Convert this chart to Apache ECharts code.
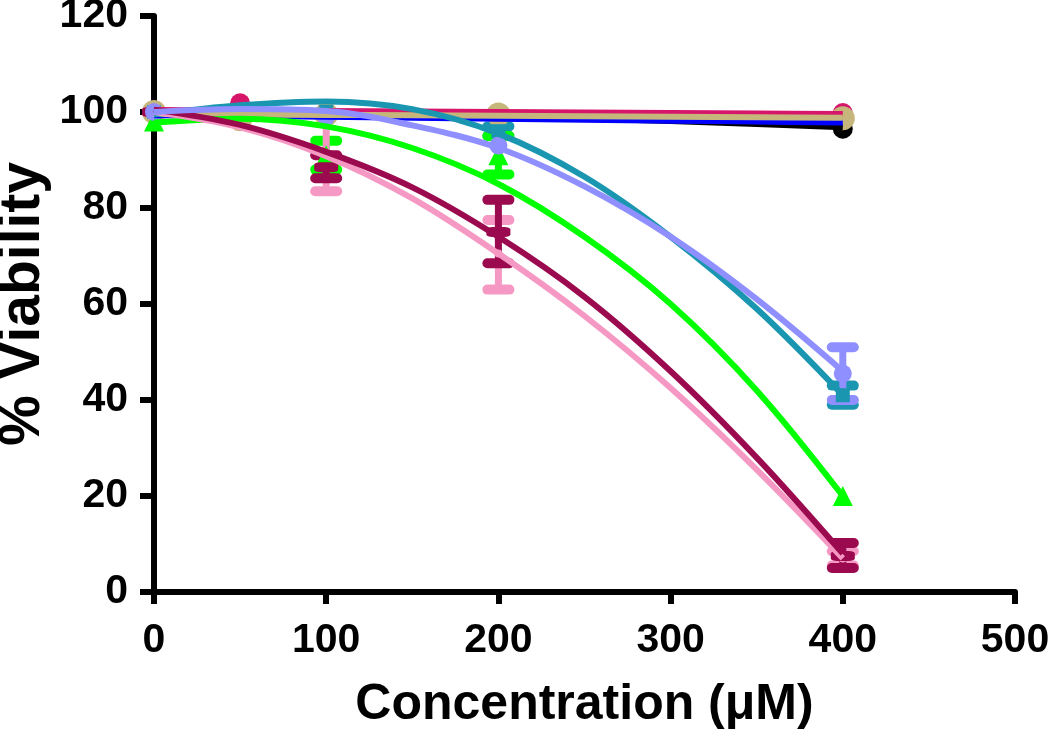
<!DOCTYPE html>
<html>
<head>
<meta charset="utf-8">
<script src="https://cdn.jsdelivr.net/npm/echarts@6/dist/echarts.min.js"></script>
<style>
html,body{margin:0;padding:0;background:#fff;}
#c{width:1050px;height:736px;}
</style>
</head>
<body>
<div id="c"></div>
<script>
// ---- data ----
const curveX = [0, 50, 100, 150, 200, 250, 300, 350, 400];
const xTicks = [0, 100, 200, 300, 400, 500];
const yTicks = [0, 20, 40, 60, 80, 100, 120];

const blackCurve    = [99.8, 99.7, 99.5, 99.3, 99.0, 98.6, 98.1, 97.5, 96.8];
const blueCurve     = [99.3, 99.2, 99.0, 98.8, 98.6, 98.4, 98.2, 98.0, 97.8];
const crimsonCurve  = [100.4, 100.3, 100.2, 100.1, 100.0, 99.9, 99.8, 99.7, 99.6];
const tanCurve      = [99.6, 99.5, 99.4, 99.3, 99.2, 99.1, 99.0, 98.9, 98.8];
const tealCurve     = [99.5, 101.4, 102.2, 100.6, 95.5, 86.5, 74.0, 59.0, 41.0];
const lavenderCurve = [100.0, 100.6, 100.2, 97.2, 92.5, 84.5, 74.0, 61.0, 46.0];
const greenCurve    = [97.8, 98.6, 97.0, 92.5, 85.0, 74.0, 60.0, 42.0, 20.0];
const maroonCurve   = [100.5, 97.3, 91.7, 84.3, 74.0, 61.5, 46.0, 28.0, 8.0];
const pinkCurve     = [100.0, 96.8, 90.8, 82.0, 70.5, 57.5, 42.5, 25.5, 7.0];

const blackPts    = [[0, 100], [100, 99.8], [200, 99.5], [400, 96.5]];
const bluePts     = [[0, 99.5], [100, 99.5], [200, 99.0], [400, 98.0]];
const crimsonPts  = [[0, 100], [50, 101.8], [100, 100], [200, 99.5], [400, 99.8]];
const tanPts      = [[0, 100], [50, 98.5], [100, 99.5], [200, 99.5], [400, 98.7]];
const tealPts     = [[0, 100], [100, 100], [200, 96.0], [400, 41.0]];
const lavenderPts = [[0, 100], [50, 100], [100, 99.0], [200, 93.0], [400, 45.5]];
const greenPts    = [[0, 98], [100, 91.0], [200, 91.0], [400, 20.0]];
const maroonPts   = [[0, 100], [100, 88.5], [200, 75.0], [400, 7.5]];
const pinkPts     = [[0, 100], [100, 91.5], [200, 70.5], [400, 7.0]];

// [x, low, high]
const tealErr     = [[200, 95.0, 97.0], [400, 39.0, 43.0]];
const lavenderErr = [[400, 40.0, 51.0]];
const greenErr    = [[100, 88.0, 94.0], [200, 87.0, 95.0]];
const maroonErr   = [[100, 86.2, 91.0], [200, 68.5, 81.7], [400, 5.0, 10.2]];
const pinkErr     = [[100, 83.5, 99.5], [200, 63.0, 77.5], [400, 5.5, 8.5]];

// ---- series definitions ----
const groups = [
  {name: 'black',    color: '#000000', curve: blackCurve,    pts: blackPts,    err: [], symbol: 'circle', size: 20},
  {name: 'blue',     color: '#0000ff', curve: blueCurve,     pts: bluePts,     err: [], symbol: 'circle', size: 16},
  {name: 'crimson',  color: '#d6166a', curve: crimsonCurve,  pts: crimsonPts,  err: [], symbol: 'circle', size: 20},
  {name: 'tan',      color: '#c6b67c', curve: tanCurve,      pts: tanPts,      err: [], symbol: 'circle', size: 24},
  {name: 'teal',     color: '#1a96b0', curve: tealCurve,     pts: tealPts,     err: tealErr, symbol: 'rect', size: 14},
  {name: 'green',    color: '#00ff00', curve: greenCurve,    pts: greenPts,    err: greenErr, symbol: 'triangle', size: 20},
  {name: 'pink',     color: '#f599c4', curve: pinkCurve,     pts: pinkPts,     err: pinkErr, symbol: 'circle', size: 8},
  {name: 'maroon',   color: '#9b0a4e', curve: maroonCurve,   pts: maroonPts,   err: maroonErr, symbol: 'roundRect', size: [24, 10]},
  {name: 'lavender', color: '#8f8fff', curve: lavenderCurve, pts: lavenderPts, err: lavenderErr, symbol: 'circle', size: 18}
];

const series = [];
groups.forEach(function (g) {
  series.push({
    type: 'line', name: g.name + '-fit', smooth: 0.35, showSymbol: false,
    data: curveX.map(function (x, i) { return [x, g.curve[i]]; }),
    lineStyle: {color: g.color, width: 6}, itemStyle: {color: g.color},
    silent: true, animation: false
  });
  if (g.err.length) {
    series.push({
      type: 'custom', name: g.name + '-err', data: g.err, animation: false,
      renderItem: function (params, api) {
        const x = api.value(0);
        const lo = api.coord([x, api.value(1)]);
        const hi = api.coord([x, api.value(2)]);
        const hw = 11;
        const st = {stroke: g.color, lineWidth: 10, lineCap: 'round'};
        return {
          type: 'group',
          children: [
            {type: 'line', shape: {x1: lo[0], y1: lo[1], x2: hi[0], y2: hi[1]}, style: {stroke: g.color, lineWidth: 7}},
            {type: 'line', shape: {x1: lo[0] - hw, y1: lo[1], x2: lo[0] + hw, y2: lo[1]}, style: st},
            {type: 'line', shape: {x1: hi[0] - hw, y1: hi[1], x2: hi[0] + hw, y2: hi[1]}, style: st}
          ]
        };
      }
    });
  }
  series.push({
    type: 'scatter', name: g.name, data: g.pts, symbol: g.symbol, symbolSize: g.size,
    itemStyle: {color: g.color, opacity: 1}, animation: false
  });
});

const labelFont = {fontFamily: '"Liberation Sans", Arial, sans-serif', fontWeight: 'bold', color: '#000'};

const option = {
  backgroundColor: '#fff',
  animation: false,
  grid: {left: 154, right: 35, top: 16, bottom: 144, containLabel: false, outerBoundsMode: 'none'},
  xAxis: {
    type: 'value', min: xTicks[0], max: xTicks[xTicks.length - 1], interval: 100,
    name: 'Concentration (μM)', nameLocation: 'middle', nameGap: 88, nameMoveOverlap: false,
    nameTextStyle: Object.assign({fontSize: 50}, labelFont),
    axisLine: {show: true, lineStyle: {color: '#000', width: 6}},
    axisTick: {show: true, length: 12, lineStyle: {color: '#000', width: 6}},
    axisLabel: Object.assign({fontSize: 41, margin: 28}, labelFont),
    splitLine: {show: false}
  },
  yAxis: {
    type: 'value', min: yTicks[0], max: yTicks[yTicks.length - 1], interval: 20,
    name: '% Viability', nameLocation: 'middle', nameGap: 102, nameRotate: 90, nameMoveOverlap: false,
    nameTextStyle: Object.assign({fontSize: 57}, labelFont),
    axisLine: {show: true, lineStyle: {color: '#000', width: 6}},
    axisTick: {show: true, length: 14, lineStyle: {color: '#000', width: 6}},
    axisLabel: Object.assign({fontSize: 41, margin: 26}, labelFont),
    splitLine: {show: false}
  },
  series: series
};

const chart = echarts.init(document.getElementById('c'), null, {renderer: 'canvas'});
chart.setOption(option);
</script>
</body>
</html>
